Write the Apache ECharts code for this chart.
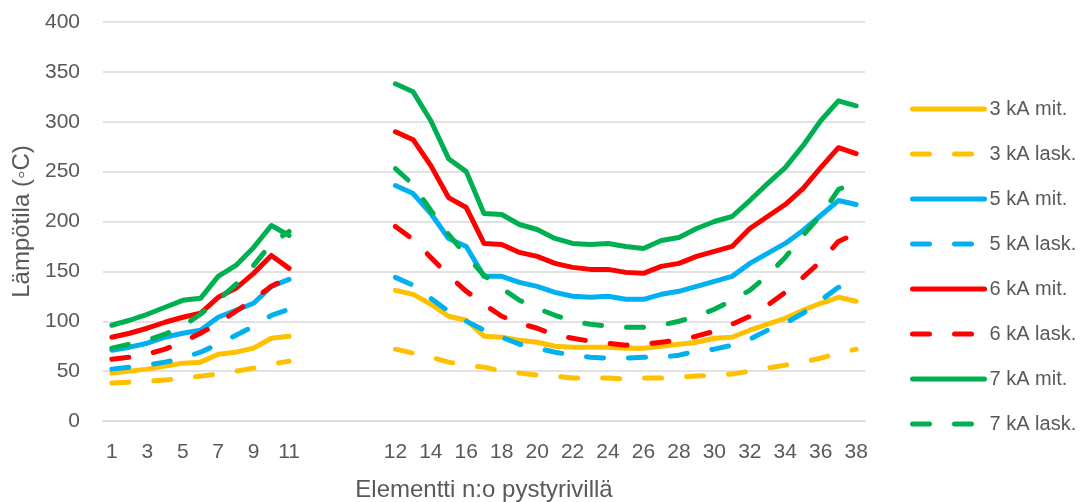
<!DOCTYPE html>
<html>
<head>
<meta charset="utf-8">
<script src="https://cdn.jsdelivr.net/npm/echarts@6/dist/echarts.min.js"></script>
<style>
html,body{margin:0;padding:0;background:#fff;}
#chart{width:1080px;height:502px;}
</style>
</head>
<body>
<div id="chart"></div>
<script>
// Categories: elements 1..11, a visual gap, elements 12..38
const leftElements = [1,2,3,4,5,6,7,8,9,10,11];
const gapSlots = ['g1','g2','g3','g4','g5'];
const rightElements = [12,13,14,15,16,17,18,19,20,21,22,23,24,25,26,27,28,29,30,31,32,33,34,35,36,37,38];

const seriesNames = ['3 kA mit.','3 kA lask.','5 kA mit.','5 kA lask.','6 kA mit.','6 kA lask.','7 kA mit.','7 kA lask.'];

// Values, elements 1..11
const m3L = [48,50,52,55,58,59,67,69,73,83,85];
const l3L = [38,39,40,41,43,45,47,50,53,57,60];
const m5L = [71,74,78,84,88,91,104,111,118,135,142];
const l5L = [52,54,56,59,63,69,77,86,95,106,112];
const m6L = [84,88,93,99,104,108,124,133,148,166,153];
const l6L = [62,64,67,72,79,88,98,110,122,135,144];
const m7L = [96,101,107,114,121,123,145,156,174,196,186];
const l7L = [73,77,81,87,95,107,121,137,156,178,190];

// Values, elements 12..38
const m3R = [131,127,117,105,101,85,84,81,79,75,74,74,74,73,73,75,77,79,83,84,91,97,103,111,118,124,120];
const l3R = [72,68,64,59,56,54,50,48,46,45,43,43,43,42,43,43,44,45,46,47,50,53,56,59,63,68,72];
const m5R = [236,228,208,183,175,145,145,139,135,129,125,124,125,122,122,127,130,135,140,145,158,168,178,191,206,221,217];
const l5R = [144,136,123,110,100,91,84,77,73,69,66,64,63,63,64,64,66,70,72,76,82,91,98,108,121,134,140];
const m6R = [290,282,256,224,214,178,177,169,165,158,154,152,152,149,148,155,158,165,170,175,193,205,217,233,254,274,268];
const l6R = [195,182,164,146,130,117,105,98,93,86,83,80,78,76,77,79,81,85,90,97,105,116,129,144,160,180,188];
const m7R = [338,330,301,263,250,208,207,197,192,183,178,177,178,175,173,181,184,193,200,205,221,238,254,276,301,321,316];
const l7R = [253,237,211,187,166,146,133,121,113,106,100,97,95,94,94,96,100,105,112,121,131,146,164,186,206,232,240];

const yTicks = [0,50,100,150,200,250,300,350,400];

const categories = leftElements.map(String).concat(gapSlots, rightElements.map(String));
const gapNulls = gapSlots.map(() => null);
const join = (a, b) => a.concat(gapNulls, b);

const dataSets = [
  join(m3L, m3R), join(l3L, l3R),
  join(m5L, m5R), join(l5L, l5R),
  join(m6L, m6R), join(l6L, l6R),
  join(m7L, m7R), join(l7L, l7R)
];
const colors = ['#FFC000','#FFC000','#00B0F0','#00B0F0','#FF0000','#FF0000','#00B050','#00B050'];
const dash = [17, 25];

const FONT = 'Liberation Sans';
const TXT = '#595959';

const series = dataSets.map((d, i) => ({
  name: seriesNames[i],
  type: 'line',
  data: d,
  symbol: 'none',
  showSymbol: false,
  connectNulls: false,
  animation: false,
  lineStyle: {
    color: colors[i],
    width: 5,
    type: i % 2 === 1 ? dash : 'solid',
    cap: 'round',
    join: 'round'
  },
  itemStyle: { color: colors[i] }
}));

const chart = echarts.init(document.getElementById('chart'), null, { renderer: 'canvas' });
chart.setOption({
  animation: false,
  backgroundColor: '#ffffff',
  textStyle: { fontFamily: FONT },
  grid: { left: 103, right: 215, top: 22, bottom: 81, containLabel: false, outerBoundsMode: 'none' },
  legend: {
    orient: 'vertical',
    left: 910,
    top: 99,
    padding: 0,
    itemWidth: 72,
    itemHeight: 14,
    itemGap: 25,
    textStyle: { color: TXT, fontSize: 20, fontFamily: FONT },
    itemStyle: { opacity: 0, borderWidth: 0 },
    lineStyle: { width: 5, cap: 'round' },
    data: seriesNames.map((n, i) => ({
      name: n,
      itemStyle: { opacity: 0, color: 'rgba(0,0,0,0)', borderWidth: 0 },
      lineStyle: { width: 5, color: colors[i], type: i % 2 === 1 ? dash : 'solid', cap: 'round' }
    }))
  },
  xAxis: {
    type: 'category',
    data: categories,
    boundaryGap: true,
    name: 'Elementti n:o pystyrivillä',
    nameLocation: 'middle',
    nameGap: 57,
    nameTextStyle: { color: TXT, fontSize: 24, fontFamily: FONT },
    axisLine: { show: true, lineStyle: { color: '#D9D9D9', width: 1.5 } },
    axisTick: { show: false },
    axisLabel: {
      interval: 1,
      margin: 21,
      color: TXT,
      fontSize: 21,
      fontFamily: FONT,
      formatter: v => (v.charAt(0) === 'g' ? '' : v)
    },
    splitLine: { show: false }
  },
  yAxis: {
    type: 'value',
    min: yTicks[0],
    max: yTicks[yTicks.length - 1],
    interval: yTicks[1] - yTicks[0],
    name: 'Lämpötila (◦C)',
    nameLocation: 'middle',
    nameGap: 65,
    nameRotate: 90,
    nameTextStyle: { color: TXT, fontSize: 24, fontFamily: FONT },
    axisLine: { show: false },
    axisTick: { show: false },
    axisLabel: { margin: 23, color: TXT, fontSize: 21, fontFamily: FONT },
    splitLine: { show: true, lineStyle: { color: '#D9D9D9', width: 1.5 } }
  },
  series: series
});
</script>
</body>
</html>
